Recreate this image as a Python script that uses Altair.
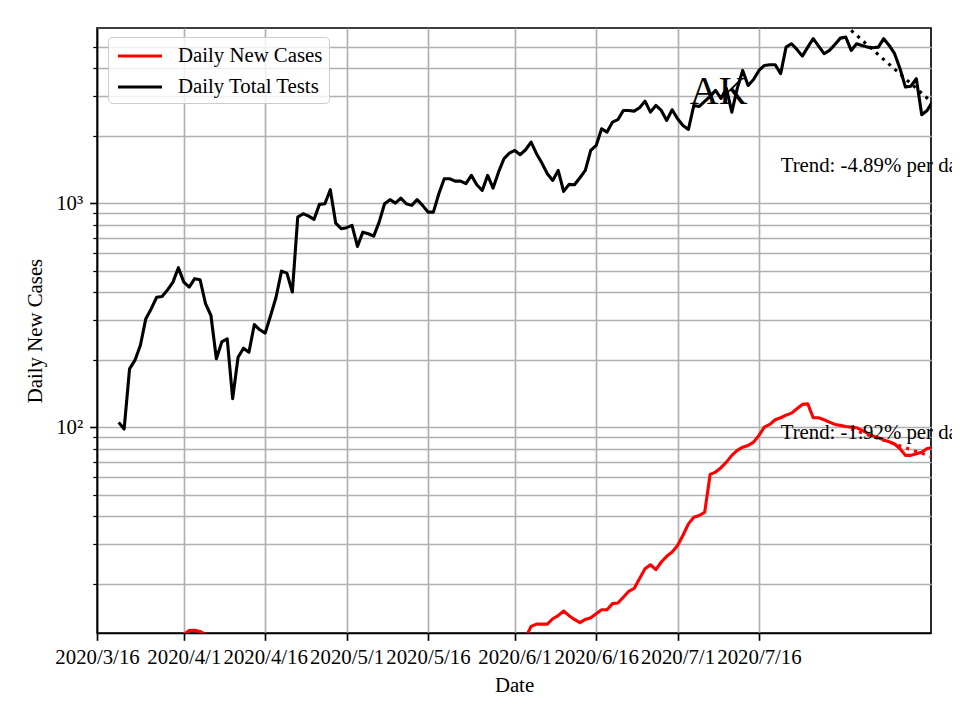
import altair as alt
import pandas as pd

# ---- data (AK) ----
tests_start = "2020-03-20"
tests = [
    105, 98, 182, 199, 232, 305, 338, 380, 383, 410,
    444, 515, 444, 422, 460, 455, 356, 315, 202, 240,
    248, 134, 205, 225, 216, 287, 272, 263, 315, 380,
    497, 487, 401, 866, 897, 875, 846, 987, 994, 1148,
    814, 769, 777, 795, 641, 742, 730, 712, 823, 994,
    1036, 1000, 1053, 994, 977, 1036, 977, 912, 912, 1101,
    1285, 1285, 1254, 1254, 1221, 1330, 1208, 1139, 1330, 1167,
    1375, 1578, 1672, 1719, 1645, 1731, 1872, 1662, 1509, 1353,
    1263, 1400, 1128, 1212, 1208, 1298, 1400, 1719, 1809, 2148,
    2075, 2299, 2357, 2592, 2592, 2574, 2666, 2853, 2548, 2730,
    2592, 2340, 2611, 2381, 2222, 2133, 2730, 2702, 2844, 2995,
    3186, 2934, 3251, 2548, 3251, 3911, 3353, 3566, 3911, 4118,
    4147, 4147, 3782, 4970, 5147, 4855, 4532, 4970, 5420, 5020,
    4645, 4805, 5110, 5452, 5508, 4805, 5147, 5058, 4970, 4940,
    4970, 5420, 5058, 4645, 3981, 3296, 3327, 3592, 2481, 2592,
    2844,
]

cases_a_start = "2020-03-31"
cases_a = [11.6, 11.9, 12.35, 12.4, 12.25, 11.85, 11.5]

cases_b_start = "2020-06-03"
cases_b = [
    11.5,
    12.9, 13.2, 13.2, 13.2, 13.95, 14.4, 15.1, 14.4, 13.85, 13.4,
    13.85, 14.1, 14.7, 15.3, 15.3, 16.3, 16.4, 17.4, 18.5, 19.05,
    21.1, 23.3, 24.3, 23.1, 25.0, 26.5, 27.7, 29.6, 32.9, 37.0,
    39.6, 40.3, 41.7, 61.5, 63.0, 65.9, 69.8, 74.8, 78.7, 81.4,
    82.8, 85.7, 91.8, 100, 102.8, 107.9, 110.1, 113.1, 115.5, 120.8,
    126.3, 127, 110.1, 110.1, 107.9, 105.3, 102.8, 101.8, 100.7, 100,
    99.4, 96.7, 94.0, 91.4, 89.7, 87.7, 86.0, 84.1, 80.1, 74.8,
    74.8, 76.1, 77.3, 80.3, 81,
]

trend_dates = ["2020-08-02", "2020-08-17"]
trend_tests = [5900, 2800]
trend_cases = [98, 73.5]

note_date = "2020-07-20"
note_labels = ["Trend: -4.89% per day", "Trend: -1.92% per day"]
note_values = [1375, 88.5]

state_label = "AK"
state_date = "2020-07-08T14:00:00Z"
state_value = 2780

series_names = ["Daily New Cases", "Daily Total Tests"]
series_colors = ["#ff0000", "#000000"]

x_tick_dates = [(3, 16), (4, 1), (4, 16), (5, 1), (5, 16), (6, 1), (6, 16), (7, 1), (7, 16)]
y_grid = [20, 30, 40, 50, 60, 70, 80, 90, 100, 200, 300, 400, 500, 600, 700, 800, 900,
          1000, 2000, 3000, 4000, 5000]
y_domain = [12.05, 6050]


def day_strings(start, n):
    return [d.strftime("%Y-%m-%d") for d in pd.date_range(start, periods=n, freq="D")]


rows = []
for d, v in zip(day_strings(tests_start, len(tests)), tests):
    rows.append({"date": d, "value": v, "series": "Daily Total Tests", "seg": "t"})
for d, v in zip(day_strings(cases_a_start, len(cases_a)), cases_a):
    rows.append({"date": d, "value": v, "series": "Daily New Cases", "seg": "a"})
for d, v in zip(day_strings(cases_b_start, len(cases_b)), cases_b):
    rows.append({"date": d, "value": v, "series": "Daily New Cases", "seg": "b"})
df = pd.DataFrame(rows)

trend_t = pd.DataFrame({"date": trend_dates, "value": trend_tests})
trend_c = pd.DataFrame({"date": trend_dates, "value": trend_cases})
notes = pd.DataFrame({"date": [note_date] * 2, "value": note_values, "label": note_labels})
state = pd.DataFrame({"date": [state_date], "value": [state_value], "label": [state_label]})

FONT = "Liberation Serif"
FS = 20.8

x_scale = alt.Scale(
    type="utc",
    domain=[alt.DateTime(year=2020, month=3, date=16, utc=True),
            alt.DateTime(year=2020, month=8, date=16, hours=17, utc=True)],
)
y_scale = alt.Scale(type="log", domain=y_domain, nice=False)

x_axis = alt.Axis(
    values=[alt.DateTime(year=2020, month=m, date=d, utc=True) for m, d in x_tick_dates],
    labelExpr="utcFormat(datum.value, '%Y/%-m/%-d')",
    title="Date",
    labelOverlap=False,
    labelFlush=False,
    labelPadding=7,
    titlePadding=8,
)
y_axis = alt.Axis(
    values=y_grid,
    labelExpr="datum.value == 100 ? '10\u00b2' : (datum.value == 1000 ? '10\u00b3' : '')",
    title="Daily New Cases",
    labelOverlap=False,
    labelPadding=7,
    titlePadding=10,
    tickSize=alt.ExprRef(expr="datum.value == 100 || datum.value == 1000 ? 7.3 : 4.2"),
    tickWidth=alt.ExprRef(expr="datum.value == 100 || datum.value == 1000 ? 1.67 : 1.25"),
)

X = alt.X("date:T", scale=x_scale, axis=x_axis)
Y = alt.Y("value:Q", scale=y_scale, axis=y_axis)

lines = alt.Chart(df).mark_line(strokeWidth=3.1, clip=True, strokeJoin="round").encode(
    x=X,
    y=Y,
    color=alt.Color(
        "series:N",
        scale=alt.Scale(domain=series_names, range=series_colors),
        legend=alt.Legend(
            orient="none", legendX=11, legendY=9, title=None,
            symbolType="M-2,0H2", symbolSize=484, symbolStrokeWidth=3.1,
            symbolOffset=13,
            labelFont=FONT, labelFontSize=FS, labelColor="black",
            fillColor="rgba(255,255,255,0.8)", strokeColor="#cccccc",
            cornerRadius=4, padding=6, rowPadding=8, labelOffset=25,
        ),
    ),
    detail="seg:N",
)

tl_t = alt.Chart(trend_t).mark_line(color="black", strokeWidth=3.1, strokeDash=[3.1, 5.2], clip=True).encode(
    x="date:T", y="value:Q")
tl_c = alt.Chart(trend_c).mark_line(color="#ff0000", strokeWidth=3.1, strokeDash=[3.1, 5.2], clip=True).encode(
    x="date:T", y="value:Q")

note_text = alt.Chart(notes).mark_text(
    align="left", baseline="alphabetic", font=FONT, fontSize=FS, color="black"
).encode(x="date:T", y="value:Q", text="label:N")

state_text = alt.Chart(state).mark_text(
    align="center", baseline="alphabetic", font=FONT, fontSize=40, color="black"
).encode(x="date:T", y="value:Q", text="label:N")

chart = alt.layer(lines, tl_t, tl_c, note_text, state_text).properties(
    width=834, height=605,
    autosize=alt.AutoSizeParams(type="none"),
    padding={"left": 89, "top": 20, "right": 21, "bottom": 78},
).configure_axis(
    labelFont=FONT, titleFont=FONT, labelFontSize=FS, titleFontSize=FS,
    titleFontWeight="normal", labelColor="black", titleColor="black",
    domainColor="black", domainWidth=1.67, tickColor="black", tickWidth=1.67,
    tickSize=7.3, gridColor="#b0b0b0", gridWidth=1.67, gridOpacity=1,
).configure_view(stroke="black", strokeWidth=1.67)

chart.save("out.html", embed_options={"renderer": "svg", "actions": False})
